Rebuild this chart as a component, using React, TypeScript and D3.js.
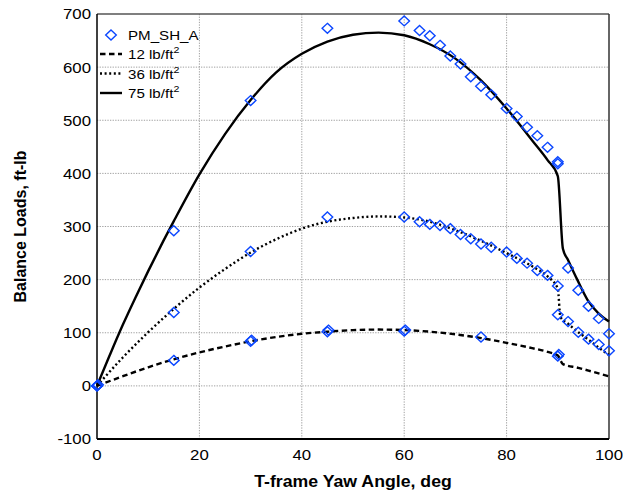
import React from "react";
import * as d3 from "d3";

// ---- data ----
const xTicks = [0, 20, 40, 60, 80, 100];
const yTicks = [-100, 0, 100, 200, 300, 400, 500, 600, 700];

// PM_SH_A measured points
const pmX = [
  0, 15, 30, 45, 60, 63, 65, 67, 69, 71, 73, 75, 77, 80, 82, 84, 86, 88, 90, 90, 92, 94, 96, 98, 100,
  0, 15, 30, 45, 60, 63, 65, 67, 69, 71, 73, 75, 77, 80, 82, 84, 86, 88, 90, 90, 92, 94, 96, 98, 100,
  0, 0.2, 15, 30, 30.2, 45, 45.2, 60, 60.2, 75, 90, 90.2,
];
const pmY = [
  0, 292, 537, 673, 687, 669, 659, 641, 621, 606, 582, 564, 548, 522, 507, 487, 471, 449, 418, 422, 222, 180, 150, 127, 98,
  0, 138, 253, 318, 318, 309, 304, 302, 296, 285, 277, 267, 261, 252, 240, 231, 217, 208, 188, 134, 121, 101, 88, 78, 66,
  0, 2, 48, 84, 86, 102, 105, 103, 105, 92, 56, 59,
];

// 12 lb/ft^2 (dashed)
const q12X = [0, 5, 10, 15, 20, 25, 30, 35, 40, 45, 50, 55, 60, 65, 70, 75, 80, 85, 88, 90, 91, 94, 97, 100];
const q12Y = [0, 18, 35, 50, 63, 74, 84, 92, 98, 102, 105, 106, 105, 102, 97, 90, 81, 71, 64, 57, 41, 34, 26, 18];

// 36 lb/ft^2 (dotted)
const q36X = [0, 5, 10, 15, 20, 25, 30, 35, 40, 45, 50, 55, 60, 65, 70, 75, 80, 85, 88, 90, 90.5, 92, 94, 96, 98, 100];
const q36Y = [0, 53, 101, 145, 185, 220, 251, 276, 296, 309, 316, 319, 317, 309, 293, 273, 250, 225, 206, 183, 130, 117, 101, 87, 72, 58];

// 75 lb/ft^2 (solid)
const q75X = [0, 2.5, 5, 7.5, 10, 12.5, 15, 20, 25, 30, 35, 40, 45, 50, 55, 60, 65, 70, 75, 80, 85, 88, 90, 91, 92, 93.8, 95.8, 97.9, 100];
const q75Y = [0, 58, 114, 166, 216, 264, 310, 398, 474, 538, 590, 625, 648, 661, 665, 660, 643, 616, 575, 522, 462, 425, 395, 258, 237, 200, 162, 137, 121];

const legendLabels = ["PM_SH_A", "12 lb/ft", "36 lb/ft", "75 lb/ft"];

// ---- layout ----
const W = 623;
const H = 494;
const L = 97, R = 609, T = 14, B = 439;
const SX = 1.12; // horizontal text stretch
const FONT = "'Liberation Sans', Arial, Helvetica, sans-serif";
const BLUE = "#0a46ff";

const x = d3.scaleLinear().domain([0, 100]).range([L, R]);
const y = d3.scaleLinear().domain([-100, 700]).range([B, T]);

function path(xs: number[], ys: number[]) {
  const l = d3
    .line<number>()
    .x((i) => x(xs[i]))
    .y((i) => y(ys[i]))
    .curve(d3.curveMonotoneX);
  return l(xs.map((_, i) => i)) || "";
}

function diamond(cx: number, cy: number, hw = 5.3, hh = 5) {
  return `M${cx},${cy - hh}L${cx + hw},${cy}L${cx},${cy + hh}L${cx - hw},${cy}Z`;
}

const SText = ({ x: tx, y: ty, anchor = "start", size, weight = "normal", children }: any) => (
  <text
    transform={`translate(${tx},${ty}) scale(${SX},1)`}
    textAnchor={anchor}
    fontSize={size}
    fontWeight={weight}
    fontFamily={FONT}
    fill="#000"
  >
    {children}
  </text>
);

export default function App() {
  const lineStyles = [
    { dash: "5.5,3.5", w: 2.4 },
    { dash: "2,2.6", w: 2.4 },
    { dash: "none", w: 2.4 },
  ];
  const curves = [path(q12X, q12Y), path(q36X, q36Y), path(q75X, q75Y)];
  return (
    <svg
      width={W}
      height={H}
      style={{ position: "absolute", left: 0, top: 0, background: "#fff" }}
    >
      <rect x={0} y={0} width={W} height={H} fill="#fff" />
      {/* grid */}
      {xTicks.slice(1, -1).map((t) => (
        <line key={"gx" + t} x1={x(t)} x2={x(t)} y1={T} y2={B} stroke="#a0a0a0" strokeWidth={1} strokeDasharray="1.3,1.3" />
      ))}
      {yTicks.slice(1, -1).map((t) => (
        <line key={"gy" + t} x1={L} x2={R} y1={y(t)} y2={y(t)} stroke="#a0a0a0" strokeWidth={1} strokeDasharray="1.3,1.3" />
      ))}
      {/* frame */}
      <line x1={L} x2={R} y1={T} y2={T} stroke="#555" strokeWidth={1.6} />
      <line x1={R} x2={R} y1={T} y2={B} stroke="#333" strokeWidth={1.5} />
      <line x1={L} x2={L} y1={T} y2={B} stroke="#000" strokeWidth={1.5} />
      <line x1={L} x2={R} y1={B} y2={B} stroke="#000" strokeWidth={1.8} />

      {/* tick labels */}
      {yTicks.map((t) => (
        <SText key={"yl" + t} x={L - 6} y={y(t) + 5.4} anchor="end" size={15}>
          {String(t)}
        </SText>
      ))}
      {xTicks.map((t) => (
        <SText key={"xl" + t} x={x(t)} y={460} anchor="middle" size={15}>
          {String(t)}
        </SText>
      ))}

      {/* axis titles */}
      <SText x={(L + R) / 2} y={487} anchor="middle" size={15.8} weight="bold">
        T-frame Yaw Angle, deg
      </SText>
      <text
        transform={`translate(26,${(T + B) / 2}) rotate(-90)`}
        textAnchor="middle"
        fontSize={16}
        fontWeight="bold"
        fontFamily={FONT}
      >
        Balance Loads, ft-lb
      </text>

      {/* curves */}
      {curves.map((d, i) => (
        <path
          key={"c" + i}
          d={d}
          fill="none"
          stroke="#000"
          strokeWidth={lineStyles[i].w}
          strokeDasharray={lineStyles[i].dash}
          strokeLinecap="butt"
          strokeLinejoin="round"
        />
      ))}

      {/* points */}
      {pmX.map((v, i) => (
        <path key={"p" + i} d={diamond(x(v), y(pmY[i]))} fill="none" stroke={BLUE} strokeWidth={1.4} />
      ))}

      {/* legend */}
      <path d={diamond(111, 35)} fill="none" stroke={BLUE} strokeWidth={1.4} />
      <SText x={128} y={40} size={13.5}>{legendLabels[0]}</SText>
      {[0, 1, 2].map((i) => {
        const ly = 54 + i * 19.5;
        return (
          <g key={"lg" + i}>
            <line
              x1={100}
              x2={122}
              y1={ly}
              y2={ly}
              stroke="#000"
              strokeWidth={lineStyles[i].w}
              strokeDasharray={lineStyles[i].dash}
            />
            <SText x={128} y={ly + 5} size={13.5}>
              {legendLabels[i + 1]}
              <tspan dy={-6} fontSize={9.5}>2</tspan>
            </SText>
          </g>
        );
      })}
    </svg>
  );
}
